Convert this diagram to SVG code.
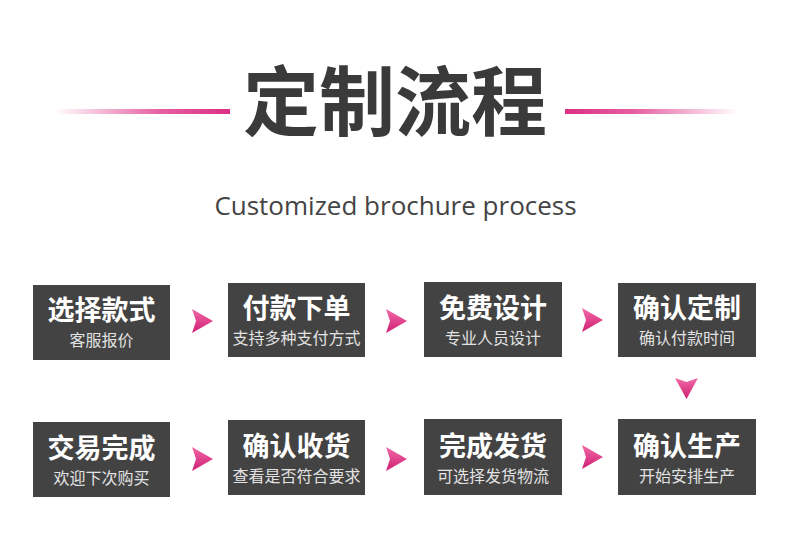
<svg xmlns="http://www.w3.org/2000/svg" width="790" height="537" viewBox="0 0 790 537">
<defs>
<linearGradient id="gl" x1="0" y1="0" x2="1" y2="0">
<stop offset="0" stop-color="#e0378a" stop-opacity="0"/>
<stop offset="0.6" stop-color="#e0378a" stop-opacity="0.8"/>
<stop offset="1" stop-color="#dc2f85"/>
</linearGradient>
<linearGradient id="gr" x1="0" y1="0" x2="1" y2="0">
<stop offset="0" stop-color="#dc2f85"/>
<stop offset="0.4" stop-color="#e0378a" stop-opacity="0.8"/>
<stop offset="1" stop-color="#e0378a" stop-opacity="0"/>
</linearGradient>
<linearGradient id="ga" x1="0" y1="0" x2="0" y2="1">
<stop offset="0" stop-color="#f26aa8"/>
<stop offset="1" stop-color="#cf1f72"/>
</linearGradient>
<path id="ar" d="M0,0 L21,12 L0,24 L4,12 Z" fill="url(#ga)"/>
<path id="ad" d="M0,0 L11.5,4 L23,0 L11.5,21 Z" fill="url(#ga)"/>
</defs>
<style>
.box{fill:#434343}
.t{font-family:"Noto Sans CJK SC","Noto Sans",sans-serif;font-weight:bold;font-size:27px;fill:#ffffff;text-anchor:middle}
.s{font-family:"Noto Sans CJK SC","Noto Sans",sans-serif;font-size:16px;fill:#e2e2e2;text-anchor:middle}
</style>
<rect width="790" height="537" fill="#ffffff"/>
<g id="header">
<rect x="55" y="109" width="175" height="5" fill="url(#gl)"/>
<rect x="565" y="109" width="173" height="5" fill="url(#gr)"/>
<text x="395" y="130" font-family="'Noto Sans CJK SC',sans-serif" font-weight="bold" font-size="76" fill="#3a3a3a" text-anchor="middle">定制流程</text>
<text x="395.5" y="215" font-family="'Open Sans',sans-serif" font-size="26" fill="#444444" text-anchor="middle">Customized brochure process</text>
</g>
<g id="n1"><rect class="box" x="33" y="285" width="137" height="75"/><text class="t" x="101.5" y="320">选择款式</text><text class="s" x="101.5" y="346">客服报价</text></g>
<g id="n2"><rect class="box" x="228" y="283" width="137" height="74"/><text class="t" x="296.5" y="318">付款下单</text><text class="s" x="296.5" y="344">支持多种支付方式</text></g>
<g id="n3"><rect class="box" x="424" y="282" width="138" height="75"/><text class="t" x="493" y="318">免费设计</text><text class="s" x="493" y="344">专业人员设计</text></g>
<g id="n4"><rect class="box" x="618" y="283" width="138" height="74"/><text class="t" x="687" y="318">确认定制</text><text class="s" x="687" y="344">确认付款时间</text></g>
<g id="n5"><rect class="box" x="33" y="422" width="137" height="75"/><text class="t" x="101.5" y="458">交易完成</text><text class="s" x="101.5" y="484">欢迎下次购买</text></g>
<g id="n6"><rect class="box" x="228" y="420" width="137" height="75"/><text class="t" x="296.5" y="456">确认收货</text><text class="s" x="296.5" y="482">查看是否符合要求</text></g>
<g id="n7"><rect class="box" x="424" y="419" width="138" height="76"/><text class="t" x="493" y="456">完成发货</text><text class="s" x="493" y="482">可选择发货物流</text></g>
<g id="n8"><rect class="box" x="618" y="419" width="138" height="76"/><text class="t" x="687" y="456">确认生产</text><text class="s" x="687" y="482">开始安排生产</text></g>
<g id="connectors">
<use href="#ar" x="192" y="309"/>
<use href="#ar" x="386" y="309"/>
<use href="#ar" x="582" y="308"/>
<use href="#ad" x="675" y="378"/>
<use href="#ar" x="192" y="447"/>
<use href="#ar" x="386" y="447"/>
<use href="#ar" x="582" y="445"/>
</g>
</svg>
